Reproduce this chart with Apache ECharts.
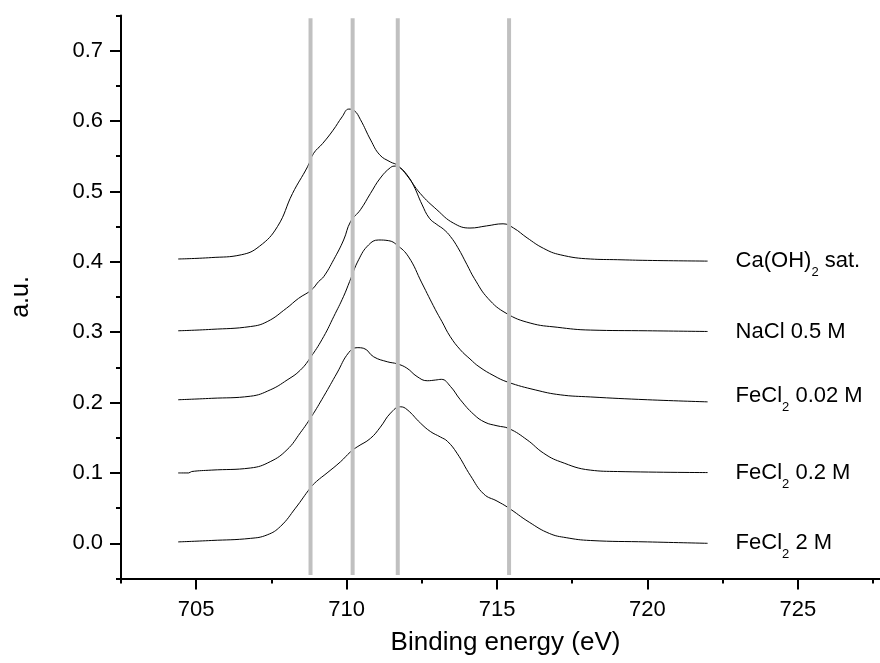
<!DOCTYPE html>
<html>
<head>
<meta charset="utf-8">
<script src="https://cdn.jsdelivr.net/npm/echarts@6/dist/echarts.min.js"></script>
<style>
html,body{margin:0;padding:0;background:#fff;}
#chart{width:880px;height:663px;}
</style>
</head>
<body>
<div id="chart"></div>
<script>
// ---- data (binding energy eV, intensity a.u.) ----
const caOH2 = [[704.4,0.404],[705.5,0.406],[706.5,0.41],[707.1,0.422],[707.7,0.45],[708.2,0.497],[708.7,0.535],[708.9,0.554],[709.2,0.568],[709.55,0.587],[709.85,0.606],[710.07,0.617],[710.25,0.615],[710.46,0.602],[710.8,0.573],[711.1,0.552],[711.45,0.542],[711.7,0.537],[712.0,0.523],[712.45,0.497],[713.0,0.474],[713.55,0.455],[714.1,0.448],[714.65,0.451],[715.2,0.454],[715.55,0.448],[716.0,0.434],[716.55,0.419],[717.1,0.41],[718.1,0.404],[719,0.403],[720,0.402],[722,0.401]];
const naCl = [[704.4,0.302],[705.5,0.304],[706.8,0.308],[707.36,0.315],[708.0,0.334],[708.4,0.348],[708.83,0.36],[709.07,0.372],[709.24,0.379],[709.57,0.403],[709.9,0.431],[710.13,0.457],[710.46,0.474],[710.79,0.497],[711.12,0.519],[711.46,0.534],[711.62,0.536],[711.79,0.533],[712.0,0.524],[712.23,0.508],[712.5,0.482],[712.75,0.462],[713.0,0.453],[713.23,0.446],[713.45,0.436],[713.7,0.42],[714.0,0.396],[714.25,0.376],[714.7,0.348],[715.3,0.327],[716.1,0.313],[717,0.307],[718.1,0.303],[720,0.302],[722,0.301]];
const feCl2_002 = [[704.4,0.204],[705.5,0.206],[706.8,0.209],[707.46,0.218],[708.02,0.232],[708.46,0.246],[708.83,0.266],[709.24,0.294],[709.57,0.322],[709.9,0.351],[710.1,0.372],[710.4,0.403],[710.73,0.424],[711.06,0.431],[711.4,0.43],[711.67,0.424],[712.06,0.407],[712.5,0.37],[712.95,0.332],[713.17,0.315],[713.44,0.294],[713.78,0.275],[714.1,0.262],[714.4,0.251],[714.9,0.238],[715.36,0.229],[716.27,0.218],[717.1,0.211],[718.1,0.208],[720,0.204],[722,0.201]];
const feCl2_02 = [[704.4,0.1],[704.75,0.1],[704.85,0.102],[705.5,0.104],[706.8,0.107],[707.46,0.116],[708.02,0.133],[708.46,0.157],[708.83,0.18],[709.24,0.209],[709.68,0.242],[710.07,0.271],[710.35,0.278],[710.57,0.277],[710.9,0.265],[711.35,0.258],[711.68,0.255],[712.0,0.249],[712.34,0.237],[712.68,0.231],[712.95,0.232],[713.15,0.233],[713.45,0.223],[713.78,0.204],[714.23,0.183],[714.6,0.172],[715.0,0.167],[715.4,0.163],[716.0,0.147],[716.55,0.128],[717.1,0.116],[718.1,0.104],[719,0.102],[722,0.1005]];
const feCl2_2 = [[704.4,0.002],[705.5,0.004],[706.8,0.007],[707.36,0.012],[707.8,0.024],[708.3,0.05],[708.8,0.079],[709.0,0.088],[709.35,0.1],[709.8,0.116],[710.13,0.13],[710.35,0.137],[710.79,0.149],[711.12,0.165],[711.46,0.185],[711.79,0.194],[712.01,0.19],[712.45,0.171],[712.78,0.159],[713.12,0.151],[713.35,0.145],[713.67,0.128],[714.12,0.096],[714.56,0.07],[715.0,0.06],[715.36,0.051],[716.07,0.03],[716.74,0.014],[717.3,0.008],[718.1,0.004],[720,0.002],[722,0.0]];

const seriesLabels = [
  '{n|Ca(OH)}{s|2}{n| sat.}',
  '{n|NaCl 0.5 M}',
  '{n|FeCl}{s|2}{n| 0.02 M}',
  '{n|FeCl}{s|2}{n| 0.2 M}',
  '{n|FeCl}{s|2}{n| 2 M}'
];
const seriesData = [caOH2, naCl, feCl2_002, feCl2_02, feCl2_2];
const labelOffsets = [[0,0],[0,0],[0,-6],[0,0],[0,0]];

const refLines = [708.8, 710.2, 711.7, 715.4];
const refSpan = [-0.045, 0.746];

const xMajorTicks = [705, 710, 715, 720, 725];
const xMinorTicks = [702.5, 707.5, 712.5, 717.5, 722.5, 727.5];
const yMajorTicks = [0, 0.1, 0.2, 0.3, 0.4, 0.5, 0.6, 0.7];
const yMinorTicks = [-0.05, 0.05, 0.15, 0.25, 0.35, 0.45, 0.55, 0.65, 0.75];

const xRange = [702.5, 727.73];
const yRange = [-0.05, 0.75];
const xName = 'Binding energy (eV)';
const yName = 'a.u.';

// ---- chart ----
const FONT = '"Liberation Sans", Arial, Helvetica, sans-serif';
const chart = echarts.init(document.getElementById('chart'), null, {renderer: 'canvas'});

const series = [];
seriesData.forEach((d, i) => {
  series.push({
    type: 'line',
    data: d,
    smooth: 0.45,
    showSymbol: false,
    symbol: 'none',
    lineStyle: {color: '#000', width: 1},
    z: 2,
    endLabel: {
      show: true,
      distance: 28,
      offset: labelOffsets[i],
      formatter: () => seriesLabels[i],
      rich: {
        n: {fontFamily: FONT, fontSize: 22, color: '#000', lineHeight: 36},
        s: {fontFamily: FONT, fontSize: 13, color: '#000', lineHeight: 36, verticalAlign: 'bottom'}
      }
    }
  });
});
refLines.forEach(x => {
  series.push({
    type: 'line',
    data: [[x, refSpan[0]], [x, refSpan[1]]],
    showSymbol: false,
    symbol: 'none',
    lineStyle: {color: '#c0c0c0', width: 4},
    z: 5,
    silent: true
  });
});

const axisLineStyle = {color: '#000', width: 2};
chart.setOption({
  animation: false,
  backgroundColor: '#fff',
  grid: {left: 121, right: 0, top: 15.5, bottom: 84.5, containLabel: false},
  xAxis: [{
    type: 'value', position: 'bottom', min: xRange[0], max: xRange[1],
    name: xName, nameLocation: 'middle', nameGap: 51,
    nameTextStyle: {fontFamily: FONT, fontSize: 26, color: '#000', padding: [0, 0, 0, 10]},
    axisLine: {show: true, onZero: false, lineStyle: axisLineStyle},
    axisTick: {show: true, customValues: xMajorTicks, length: 11, inside: false, lineStyle: axisLineStyle},
    axisLabel: {show: true, customValues: xMajorTicks, margin: 20, fontFamily: FONT, fontSize: 22, color: '#000',
      formatter: v => String(Math.round(v))},
    splitLine: {show: false}
  }, {
    type: 'value', position: 'bottom', min: xRange[0], max: xRange[1],
    axisLine: {show: false, onZero: false},
    axisTick: {show: true, customValues: xMinorTicks, length: 5, inside: false, lineStyle: axisLineStyle},
    axisLabel: {show: false},
    splitLine: {show: false}
  }],
  yAxis: [{
    type: 'value', position: 'left', min: yRange[0], max: yRange[1],
    name: yName, nameLocation: 'middle', nameGap: 87,
    nameTextStyle: {fontFamily: FONT, fontSize: 25, color: '#000'},
    axisLine: {show: true, onZero: false, lineStyle: axisLineStyle},
    axisTick: {show: true, customValues: yMajorTicks, length: 11, inside: false, lineStyle: axisLineStyle},
    axisLabel: {show: true, customValues: yMajorTicks, margin: 18, fontFamily: FONT, fontSize: 22, color: '#000',
      formatter: v => v.toFixed(1)},
    splitLine: {show: false}
  }, {
    type: 'value', position: 'left', min: yRange[0], max: yRange[1],
    axisLine: {show: false, onZero: false},
    axisTick: {show: true, customValues: yMinorTicks, length: 5, inside: false, lineStyle: axisLineStyle},
    axisLabel: {show: false},
    splitLine: {show: false}
  }],
  series: series
});
</script>
</body>
</html>
